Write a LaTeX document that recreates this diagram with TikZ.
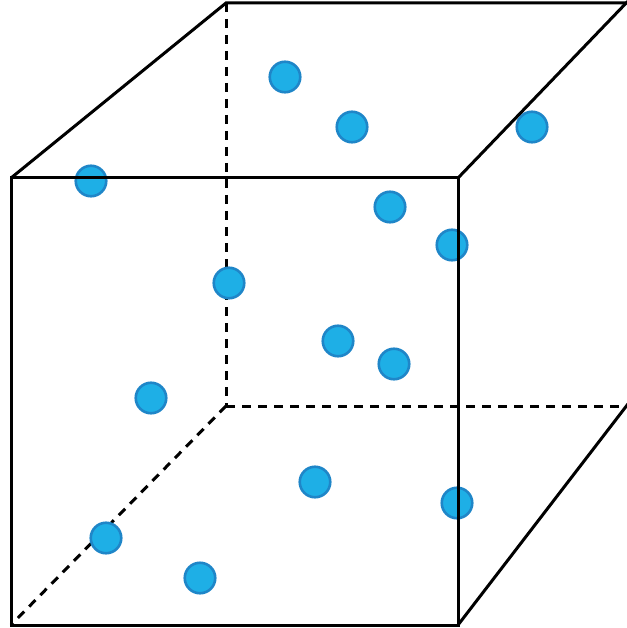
\documentclass[tikz,border=0pt]{standalone}
\usepackage{tikz}
\usetikzlibrary{positioning,calc}

\definecolor{dotfill}{HTML}{1EAFE6}
\definecolor{dotline}{HTML}{1F86C8}

\begin{document}
\begin{tikzpicture}[
		x=1pt,y=-1pt,
		edge/.style={line width=3pt,black},
		hidden/.style={line width=3pt,black,dash pattern=on 9pt off 7pt},
		point/.style={circle,draw=dotline,fill=dotfill,line width=2.6pt,minimum size=30.5pt,inner sep=0pt}
		]
		\useasboundingbox (0,0) rectangle (626,628);
		
		% cube corners
		\coordinate (f1) at (11,178);
		\coordinate (f2) at (458,178);
		\coordinate (f3) at (458,625);
		\coordinate (f4) at (11,625);
		\coordinate (b1) at (226,3);
		\coordinate (b2) at (631,-2);
		\coordinate (b3) at (631,400);
		\coordinate (b4) at (226,406);
		
		% hidden edges
		\draw[hidden] (b1) -- (b4);
		\draw[hidden] (b4) -- (b3 |- b4);
		\draw[hidden] (b4) -- (f4);
		
		% points
		\foreach \n/\x/\y in {p1/285/77, p2/352/127, p3/532/127, p4/91/181,
			p5/390/207, p6/452/245, p7/229/283, p8/338/341, p9/394/364,
			p10/151/398, p11/315/482, p12/457/503, p13/106/538, p14/200/578}
			\node[point] (\n) at (\x,\y) {};
		
		% visible edges
		\draw[edge] (f1) -- (f2) -- (f3) -- (f4) -- cycle;
		\draw[edge] (f1) -- (b1) -- (b1 -| b2);
		\draw[edge] (f2) -- (b2);
		\draw[edge] (f3) -- (b3);
		
	\end{tikzpicture}
\end{document}
